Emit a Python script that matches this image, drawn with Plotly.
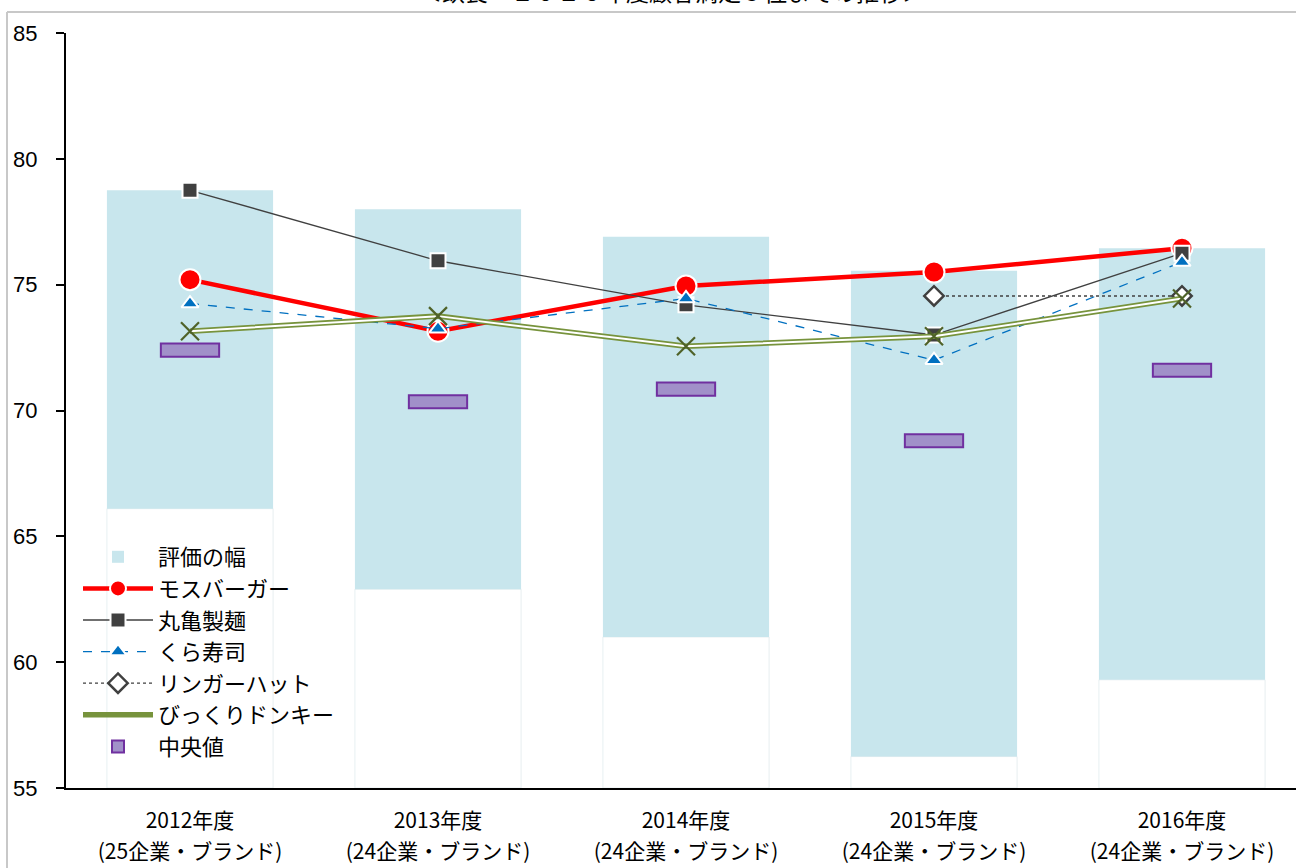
import plotly.graph_objects as go

years = ["2012年度", "2013年度", "2014年度", "2015年度", "2016年度"]
counts = ["(25企業・ブランド)", "(24企業・ブランド)", "(24企業・ブランド)", "(24企業・ブランド)", "(24企業・ブランド)"]

range_low = [66.1, 62.9, 61.0, 56.25, 59.3]
range_high = [78.75, 78.0, 76.9, 75.55, 76.45]
median = [72.4, 70.35, 70.85, 68.8, 71.6]

mos = [75.2, 73.15, 74.95, 75.5, 76.45]
marugame = [78.75, 75.95, 74.2, 73.0, 76.25]
kura = [74.25, 73.25, 74.45, 72.0, 75.9]
ringer = [None, None, None, 74.55, 74.55]
bikkuri = [73.15, 73.75, 72.55, 72.95, 74.45]

Y_MIN, Y_MAX = 55, 85
xs = list(range(len(years)))

fig = go.Figure()

# faint invisible base of the floating bars
fig.add_trace(go.Bar(
    x=xs, y=[lo - Y_MIN for lo in range_low], base=[Y_MIN] * len(xs), width=0.67,
    marker=dict(color="rgba(255,255,255,0)", line=dict(color="rgba(215,228,232,0.6)", width=1)),
    showlegend=False, hoverinfo="skip"))

fig.add_trace(go.Bar(
    x=xs, y=[h - l for h, l in zip(range_high, range_low)], base=range_low, width=0.67,
    marker=dict(color="#C8E6ED", line=dict(width=0)),
    name="評価の幅", legendgroup="g0", legendrank=1))

fig.add_trace(go.Bar(
    x=xs, y=[0.52] * len(xs), base=[m - 0.26 for m in median], width=0.235,
    marker=dict(color="#A190C9", line=dict(color="#7030A0", width=2)),
    name="中央値", legendgroup="g6", legendrank=7))

fig.add_trace(go.Scatter(
    x=xs, y=mos, mode="lines+markers", name="モスバーガー", legendgroup="g1", legendrank=2,
    line=dict(color="#FF0000", width=4.5),
    marker=dict(symbol="circle", size=21, color="#FF0000", line=dict(color="white", width=2))))

fig.add_trace(go.Scatter(
    x=xs, y=marugame, mode="lines+markers", name="丸亀製麺", legendgroup="g2", legendrank=3,
    line=dict(color="#404040", width=1.3),
    marker=dict(symbol="square", size=15, color="#404040", line=dict(color="white", width=2))))

fig.add_trace(go.Scatter(
    x=xs, y=kura, mode="lines+markers", name="くら寿司", legendgroup="g3", legendrank=4,
    line=dict(color="#0070C0", width=1.3, dash="dash"),
    marker=dict(symbol="triangle-up", size=15, color="#0070C0", line=dict(color="white", width=2))))

fig.add_trace(go.Scatter(
    x=xs, y=ringer, mode="lines+markers", name="リンガーハット", legendgroup="g4", legendrank=5,
    line=dict(color="#404040", width=1.3, dash="dot"),
    marker=dict(symbol="diamond", size=15, color="white", line=dict(color="#404040", width=2.5))))

fig.add_trace(go.Scatter(
    x=xs, y=bikkuri, mode="lines", name="びっくりドンキー", legendgroup="g5", legendrank=6,
    line=dict(color="#77933C", width=5.5), showlegend=True))
fig.add_trace(go.Scatter(
    x=xs, y=bikkuri, mode="lines+markers", legendgroup="g5", showlegend=False,
    line=dict(color="white", width=2),
    marker=dict(symbol="x-thin", size=18, color="#4F6228", line=dict(color="#4F6228", width=2.2)),
    hoverinfo="skip"))

# second x axis carrying the second line of category labels
fig.add_trace(go.Scatter(x=xs, y=[None] * len(xs), xaxis="x2", yaxis="y",
                         showlegend=False, hoverinfo="skip"))

plot_w = 1296 - 66
x_range = [-0.5, -0.5 + plot_w / 248]
label_font = dict(family="Noto Sans CJK JP", size=21, color="black")

fig.update_layout(
    width=1296, height=868,
    margin=dict(l=66, r=0, t=33, b=80),
    paper_bgcolor="white", plot_bgcolor="white",
    barmode="overlay",
    font=dict(family="Noto Sans CJK JP", size=20, color="black"),
    xaxis=dict(range=x_range, tickvals=xs, ticktext=years, automargin=False,
               showgrid=False, zeroline=False, showline=True, linecolor="black", linewidth=2,
               ticks="", ticklabelstandoff=13, tickfont=label_font),
    xaxis2=dict(range=x_range, tickvals=xs, ticktext=counts, automargin=False,
                overlaying="x", anchor="y", side="bottom",
                showgrid=False, zeroline=False, showline=False,
                ticks="", ticklabelstandoff=49, tickfont=label_font),
    yaxis=dict(range=[Y_MIN, Y_MAX], dtick=5, showgrid=False, zeroline=False,
               showline=True, linecolor="black", linewidth=2, automargin=False,
               ticks="outside", ticklen=8, tickcolor="black", tickwidth=1.5,
               ticklabelstandoff=14,
               tickfont=dict(family="Arial, Liberation Sans", size=22)),
    legend=dict(x=(78 - 66) / plot_w, y=(788 - 536) / 755, xanchor="left", yanchor="top",
                bgcolor="rgba(0,0,0,0)", itemwidth=70, tracegroupgap=5.5,
                font=dict(family="Noto Sans CJK JP", size=22), traceorder="normal"),
    showlegend=True,
)

fig.add_annotation(text="＜飲食　２０１６年度顧客満足５位までの推移＞", xref="paper", yref="paper",
                   x=(672 - 66) / plot_w, y=1 + (33 - 10) / 755, xanchor="center", yanchor="bottom",
                   showarrow=False, font=dict(size=23, family="Noto Sans CJK JP"))

fig.add_shape(type="line", xref="paper", yref="paper",
              x0=(7 - 66) / plot_w, x1=1.0, y0=1 + (33 - 12) / 755, y1=1 + (33 - 12) / 755,
              line=dict(color="#C8C8C8", width=2))
fig.add_shape(type="line", xref="paper", yref="paper",
              x0=(7 - 66) / plot_w, x1=(7 - 66) / plot_w, y0=1 + (33 - 12) / 755, y1=-80 / 755,
              line=dict(color="#C8C8C8", width=2))

fig.write_html("out.html", config={"displayModeBar": False},
               post_script="document.body.style.margin='0';document.body.style.overflow='hidden';")
